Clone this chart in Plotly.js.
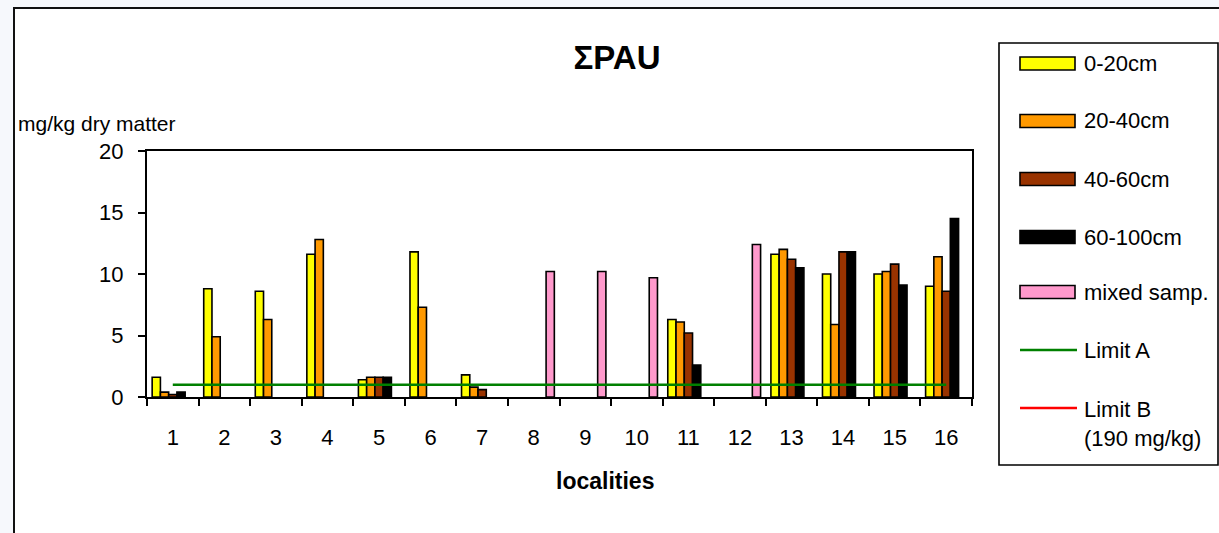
<!DOCTYPE html>
<html>
<head>
<meta charset="utf-8">
<script src="https://cdn.plot.ly/plotly-3.0.1.min.js"></script>
<style>
  html, body { margin: 0; padding: 0; background: #f6f8fc; width: 1219px; height: 533px; overflow: hidden; }
  #frame { position: absolute; left: 13px; top: 7px; width: 1300px; height: 600px; border: 2px solid #111; background: #ffffff; }
  #chart { position: absolute; left: 0; top: 0; width: 1219px; height: 533px; }
</style>
</head>
<body>
<div id="frame"></div>
<div id="chart"></div>
<script>
// ---- data ----
const localities = ['1','2','3','4','5','6','7','8','9','10','11','12','13','14','15','16'];
const depth0_20   = [1.6, 8.8, 8.6, 11.6, 1.4, 11.8, 1.8, null, null, null, 6.3, null, 11.6, 10.0, 10.0, 9.0];
const depth20_40  = [0.4, 4.9, 6.3, 12.8, 1.6, 7.3, 0.8, null, null, null, 6.1, null, 12.0, 5.9, 10.2, 11.4];
const depth40_60  = [0.2, null, null, null, 1.6, null, 0.6, null, null, null, 5.2, null, 11.2, 11.8, 10.8, 8.6];
const depth60_100 = [0.4, null, null, null, 1.6, null, null, null, null, null, 2.6, null, 10.5, 11.8, 9.1, 14.5];
const mixedSamp   = [null, null, null, null, null, null, null, 10.2, 10.2, 9.7, null, 12.4, null, null, null, null];
const limitA = [1, 1, 1, 1, 1, 1, 1, 1, 1, 1, 1, 1, 1, 1, 1, 1];
const limitB = [190, 190, 190, 190, 190, 190, 190, 190, 190, 190, 190, 190, 190, 190, 190, 190];

const seriesNames = ['0-20cm', '20-40cm', '40-60cm', '60-100cm', 'mixed samp.'];
const seriesColors = ['#FFFF00', '#FF9900', '#993300', '#000000', '#FF99CC'];
const seriesValues = [depth0_20, depth20_40, depth40_60, depth60_100, mixedSamp];
const lineNames = ['Limit A', 'Limit B<br>(190 mg/kg)'];
const lineColors = ['#008000', '#FF0000'];
const lineValues = [limitA, limitB];

// ---- geometry (pixels) ----
const W = 1219, H = 533;
const PL = 147, PR = 972, PT = 151, PB = 397;
const px2x = X => (X - PL) / (PR - PL);
const px2y = Y => (PB - Y) / (PB - PT);
const FONT = 'Liberation Sans, Arial, sans-serif';

const traces = [];
seriesValues.forEach((vals, i) => {
  traces.push({
    type: 'bar', x: localities, y: vals, name: seriesNames[i], showlegend: false,
    marker: { color: seriesColors[i], line: { color: '#000', width: 1.6 } },
    hoverinfo: 'x+y+name'
  });
});
lineValues.forEach((vals, i) => {
  traces.push({
    type: 'scatter', mode: 'lines', x: localities, y: vals, name: lineNames[i], showlegend: false,
    line: { color: lineColors[i], width: 2.6 }, cliponaxis: true
  });
});

// ---- manual legend ----
const shapes = [];
const annotations = [];
shapes.push({ type: 'rect', xref: 'paper', yref: 'paper', x0: px2x(999), x1: px2x(1218), y0: px2y(43), y1: px2y(465), line: { color: '#000', width: 1.6 }, fillcolor: 'rgba(255,255,255,0)' });
const entryY = [63.5, 121, 179, 237, 292];
seriesNames.forEach((n, i) => {
  const yc = entryY[i];
  shapes.push({ type: 'rect', xref: 'paper', yref: 'paper', x0: px2x(1020), x1: px2x(1075), y0: px2y(yc - 6.5), y1: px2y(yc + 6.5), line: { color: '#000', width: 1.6 }, fillcolor: seriesColors[i] });
  annotations.push({ xref: 'paper', yref: 'paper', x: px2x(1082), y: px2y(yc), xanchor: 'left', yanchor: 'middle', showarrow: false, text: n, font: { family: FONT, size: 22, color: '#000' } });
});
const lineEntryY = [350, 408];
lineNames.forEach((n, i) => {
  const yc = lineEntryY[i];
  shapes.push({ type: 'line', xref: 'paper', yref: 'paper', x0: px2x(1020), x1: px2x(1077), y0: px2y(yc), y1: px2y(yc), line: { color: lineColors[i], width: 2.6 } });
  annotations.push({ xref: 'paper', yref: 'paper', x: px2x(1082), y: px2y(yc), xanchor: 'left', yanchor: i === 1 ? 'top' : 'middle', yshift: i === 1 ? 13 : 0, showarrow: false, align: 'left', text: n, font: { family: FONT, size: 22, color: '#000' } });
});

// axis texts
annotations.push({ xref: 'paper', yref: 'paper', x: px2x(16), y: px2y(123), xanchor: 'left', yanchor: 'middle', showarrow: false, text: 'mg/kg dry matter', font: { family: FONT, size: 21, color: '#000' } });
annotations.push({ xref: 'paper', yref: 'paper', x: px2x(605), y: px2y(481), xanchor: 'center', yanchor: 'middle', showarrow: false, text: '<b>localities</b>', font: { family: FONT, size: 23, color: '#000' } });

const layout = {
  width: W, height: H,
  margin: { l: PL, r: W - PR, t: PT, b: H - PB, pad: 0 },
  paper_bgcolor: 'rgba(0,0,0,0)', plot_bgcolor: 'rgba(0,0,0,0)',
  font: { family: FONT, size: 22, color: '#000' },
  title: { text: '<b>ΣPAU</b>', xref: 'container', yref: 'container', x: 617 / W, y: 1 - 57 / H, xanchor: 'center', yanchor: 'middle', font: { family: FONT, size: 33, color: '#000' } },
  barmode: 'group', bargap: 0.2, bargroupgap: 0,
  showlegend: false,
  xaxis: {
    type: 'category', tickson: 'boundaries', ticks: 'outside', ticklen: 7, tickwidth: 2, tickcolor: '#000',
    showline: true, linecolor: '#000', linewidth: 2, mirror: true, showgrid: false, zeroline: false,
    ticklabelstandoff: 20, tickfont: { family: FONT, size: 22, color: '#000' }
  },
  yaxis: {
    range: [0, 20], dtick: 5, tick0: 0, ticks: 'outside', ticklen: 7, tickwidth: 2, tickcolor: '#000',
    showline: true, linecolor: '#000', linewidth: 2, mirror: true, showgrid: false, zeroline: false,
    ticklabelstandoff: 10, tickfont: { family: FONT, size: 22, color: '#000' }
  },
  shapes: shapes,
  annotations: annotations
};

Plotly.newPlot('chart', traces, layout, { staticPlot: true, displayModeBar: false });
</script>
</body>
</html>
